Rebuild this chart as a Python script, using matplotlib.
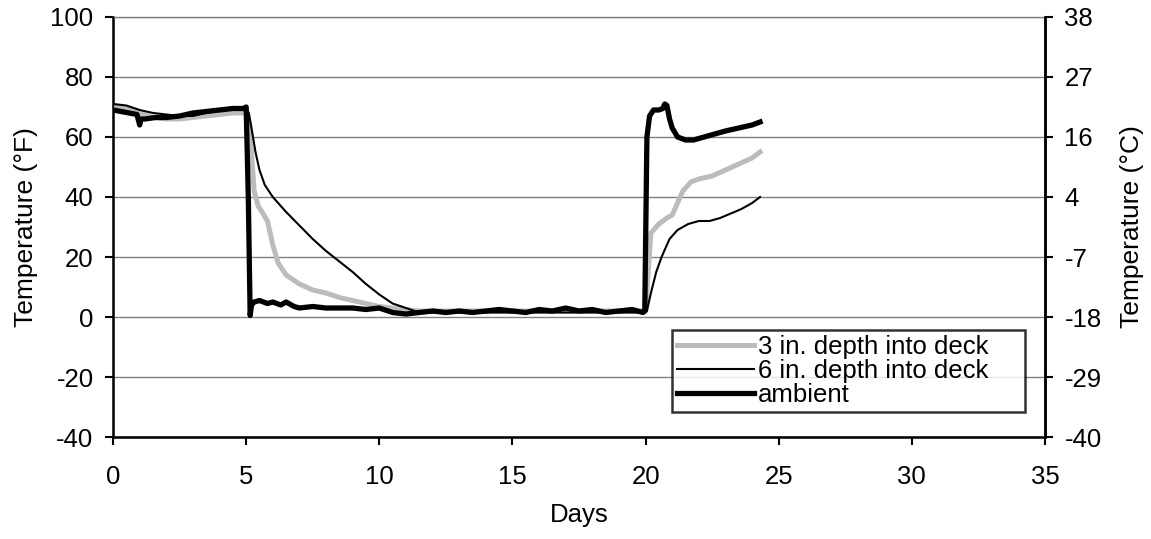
import matplotlib
matplotlib.use("Agg")
import matplotlib.pyplot as plt

plt.rcParams['font.family'] = ['Liberation Sans', 'DejaVu Sans']
plt.rcParams['axes.unicode_minus'] = False

# Data (days, °F)
t_amb = [0, 0.3, 0.6, 0.9, 1.0, 1.05, 1.2, 1.6, 2.0, 2.5, 3.0, 3.5, 4.0, 4.5, 4.9, 5.0, 5.08, 5.15,
         5.2, 5.3, 5.5, 5.8, 6.0, 6.3, 6.5, 6.8, 7.0, 7.5, 8.0, 8.5, 9.0, 9.5, 10.0, 10.5, 11.0,
         11.5, 12, 12.5, 13, 13.5, 14, 14.5, 15, 15.5, 16, 16.5, 17, 17.5, 18, 18.5, 19, 19.5,
         19.9, 19.97, 20.05, 20.15, 20.3, 20.5, 20.65, 20.72, 20.8, 20.9, 21.0, 21.2, 21.5, 21.8,
         22.2, 22.6, 23.0, 23.5, 24.0, 24.3]
y_amb = [69, 68.5, 68, 67.5, 64, 66, 66, 66.5, 66.5, 67, 68, 68.5, 69, 69.5, 69.5, 70, 40, 0.5,
         4, 5, 5.5, 4.5, 5, 4, 5, 3.5, 3, 3.5, 3, 3, 3, 2.5, 3, 1.5, 1,
         1.5, 2, 1.5, 2, 1.5, 2, 2.5, 2, 1.5, 2.5, 2, 3, 2, 2.5, 1.5, 2, 2.5,
         1.5, 2, 60, 67, 69, 69, 69.5, 71, 70.5, 66, 63, 60, 59, 59,
         60, 61, 62, 63, 64, 65]

t_6in = [0, 0.5, 1.0, 1.5, 2, 2.5, 3, 3.5, 4, 4.5, 5.0, 5.1, 5.2, 5.35, 5.5, 5.7, 6.0, 6.5, 7.0,
         7.5, 8.0, 8.5, 9.0, 9.5, 10.0, 10.5, 11.0, 11.5, 12, 13, 14, 15, 16, 17, 18, 19, 19.9,
         20.05, 20.2, 20.4, 20.6, 20.9, 21.2, 21.6, 22.0, 22.4, 22.8, 23.2, 23.6, 24.0, 24.3]
y_6in = [71, 70.5, 69, 68, 67.5, 67, 67, 68, 69, 69.5, 69.5, 68, 63, 55, 49, 44, 40, 35, 30.5,
         26, 22, 18.5, 15, 11, 7.5, 4.5, 3, 1.5, 1.5, 1.5, 1.5, 1.5, 1.5, 1.5, 1.5, 1.5, 1.5,
         2, 8, 15, 20, 26, 29, 31, 32, 32, 33, 34.5, 36, 38, 40]

t_3in = [0, 0.5, 1.0, 1.5, 2, 2.5, 3, 3.5, 4, 4.5, 5.0, 5.1, 5.2, 5.3, 5.45, 5.6, 5.8, 6.0, 6.2,
         6.5, 7.0, 7.5, 8.0, 8.5, 9.0, 9.5, 10.0, 10.5, 11.0, 11.5, 12, 13, 14, 15, 16, 17, 18,
         19, 19.9, 20.0, 20.1, 20.2, 20.5, 20.8, 21.0, 21.2, 21.4, 21.7, 22.0, 22.5, 23.0, 23.5,
         24.0, 24.3]
y_3in = [70, 69.5, 68, 66.5, 66, 66, 66.5, 67, 67.5, 68, 68, 65, 55, 42, 37, 35, 32, 24, 18,
         14, 11, 9, 8, 6.5, 5.5, 4.5, 3.5, 3, 2.5, 2, 2, 2, 2, 2, 2, 2, 2,
         2, 2, 2, 15, 28, 31, 33, 34, 38, 42, 45, 46, 47, 49, 51,
         53, 55]

labels = ['3 in. depth into deck', '6 in. depth into deck', 'ambient']
f_ticks = [-40, -20, 0, 20, 40, 60, 80, 100]
x_ticks = [0, 5, 10, 15, 20, 25, 30, 35]

FS = 18.5

fig = plt.figure(figsize=(11.51, 5.39), dpi=100)
ax = fig.add_axes([0.0982, 0.1892, 0.8097, 0.7793])

ax.plot(t_3in, y_3in, color='#bcbcbc', lw=3.6, label=labels[0], zorder=3)
ax.plot(t_6in, y_6in, color='black', lw=1.5, label=labels[1], zorder=4)
ax.plot(t_amb, y_amb, color='black', lw=3.8, label=labels[2], zorder=5)

ax.set_xlim(0, 35)
ax.set_ylim(-40, 100)
ax.set_xticks(x_ticks)
ax.set_yticks(f_ticks)
ax.yaxis.grid(True, color='#808080', lw=1)
ax.set_axisbelow(True)
for s in ['left', 'bottom']:
    ax.spines[s].set_linewidth(1.8)
ax.spines['top'].set_color('#808080')
ax.spines['top'].set_linewidth(1)
ax.spines['right'].set_linewidth(1.8)
ax.tick_params(direction='out', length=6, width=1.5, labelsize=FS)
ax.tick_params(axis='x', pad=14)
ax.tick_params(axis='y', pad=8)
ax.set_xlabel('Days', fontsize=FS, labelpad=10)
ax.set_ylabel('Temperature (°F)', fontsize=19, labelpad=9)

ax2 = ax.twinx()
ax2.set_ylim(-40, 100)
ax2.set_yticks(f_ticks)
ax2.set_yticklabels([str(round((f - 32) * 5 / 9)) for f in f_ticks])
ax2.tick_params(direction='out', length=6, width=1.5, labelsize=FS, pad=8)
ax2.spines['right'].set_linewidth(1.8)
ax2.spines['top'].set_visible(False)
ax2.set_ylabel('Temperature (°C)', fontsize=19, labelpad=13)

leg = ax.legend(loc='lower left', bbox_to_anchor=(0.5998, 0.0595, 0.3788, 0.2), mode='expand',
                fontsize=18.5, frameon=True, fancybox=False, borderpad=0.2, labelspacing=0.0,
                handlelength=3.0, handletextpad=0.15, borderaxespad=0)
leg.get_frame().set_edgecolor('black')
leg.get_frame().set_linewidth(1.8)
leg.set_zorder(10)

fig.savefig('out.png', dpi=100)
